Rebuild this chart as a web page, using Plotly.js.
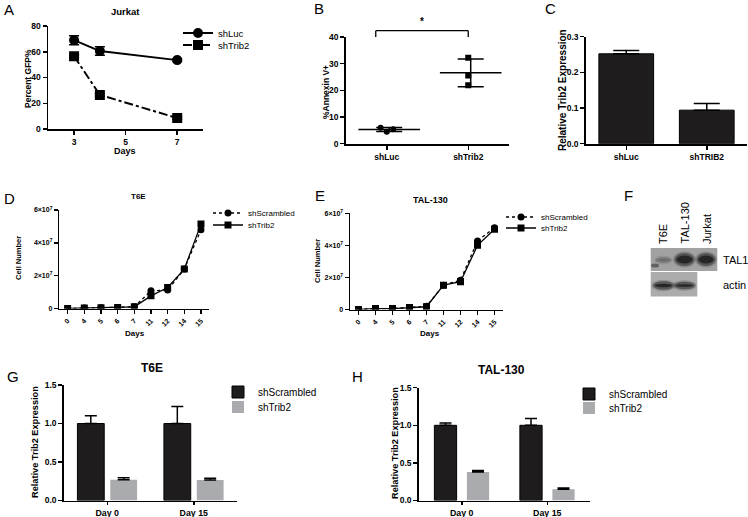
<!DOCTYPE html>
<html><head><meta charset="utf-8">
<script src="https://cdn.plot.ly/plotly-3.0.1.min.js"></script>
<style>html,body{margin:0;padding:0;background:#fff}#chart{width:748px;height:517px}</style>
</head><body><div id="chart"></div>
<script>
// ---------------- DATA ----------------
// Panel A: Jurkat, Percent GFP%
const daysA = [3, 4, 7];
const shLucA = [69, 60.5, 53.5];
const shLucAErr = [3.5, 3.3, 1.0];
const shTrib2A = [56.5, 26.5, 8.5];
const shTrib2AErr = [1.0, 1.0, 1.0];
const ticksA = [3, 5, 7];

// Panel B: %Annexin V+ (individual replicates)
const groupsB = ['shLuc', 'shTrib2'];
const annexinShLuc = [6.0, 4.5, 5.4];
const annexinShTrib2 = [32.2, 25.6, 21.9];

// Panel C: Relative Trib2 expression (Jurkat)
const groupsC = ['shLuc', 'shTRIB2'];
const trib2C = [0.252, 0.094];
const trib2CErr = [0.009, 0.019];

// Panels D / E: cell number over days
const daysDE = ['0', '4', '5', '6', '7', '11', '12', '14', '15'];
const t6eScrambled = [0, 0.03e7, 0.04e7, 0.06e7, 0.1e7, 1.08e7, 1.12e7, 2.4e7, 4.8e7];
const t6eTrib2 = [0, 0.03e7, 0.04e7, 0.06e7, 0.1e7, 0.77e7, 1.28e7, 2.4e7, 5.14e7];
const tal130Scrambled = [0, 0.06e7, 0.06e7, 0.12e7, 0.2e7, 1.52e7, 1.83e7, 4.28e7, 5.1e7];
const tal130Trib2 = [0, 0.06e7, 0.06e7, 0.12e7, 0.17e7, 1.52e7, 1.73e7, 4.0e7, 5.0e7];
const cellTickVals = [0, 2e7, 4e7, 6e7];
const cellTickText = ['0', '2×10<sup>7</sup>', '4×10<sup>7</sup>', '6×10<sup>7</sup>'];

// Panels G / H: relative Trib2 expression
const daysGH = ['Day 0', 'Day 15'];
const t6eExprScr = [1.0, 1.0];
const t6eExprScrErr = [0.1, 0.22];
const t6eExprTrib2 = [0.27, 0.265];
const t6eExprTrib2Err = [0.025, 0.025];
const tal130ExprScr = [1.0, 1.0];
const tal130ExprScrErr = [0.03, 0.09];
const tal130ExprTrib2 = [0.38, 0.15];
const tal130ExprTrib2Err = [0.02, 0.015];

// Panel F: western blot labels
const blotLanes = ['T6E', 'TAL-130', 'Jurkat'];
const blotRows = ['TAL1', 'actin'];

// ---------------- STYLE / LAYOUT HELPERS ----------------
const W = 748, H = 517;
const FONT = 'Liberation Sans, Arial, sans-serif';
const px = v => v / W;
const py = v => 1 - v / H;
const xd = (a, b) => [px(a), px(b)];
const yd = (top, bot) => [py(bot), py(top)];

function ax(o, fs, lw) {
  return Object.assign({
    showline: true, linecolor: '#000', linewidth: lw || 1.8,
    ticks: 'outside', ticklen: 4, tickwidth: 1.5, tickcolor: '#000',
    showgrid: false, zeroline: false, fixedrange: true, automargin: false,
    tickfont: {family: FONT, size: fs || 8.5, color: '#000', weight: 'bold'}
  }, o);
}
function leg(xpx, ypx, size) {
  return {x: px(xpx), y: py(ypx), xref: 'paper', yref: 'paper', xanchor: 'left', yanchor: 'middle',
    bgcolor: 'rgba(0,0,0,0)', borderwidth: 0, font: {family: FONT, size: size, color: '#000'},
    itemclick: false, itemdoubleclick: false, tracegroupgap: 0};
}
function txt(t, xpx, ypx, size, opts) {
  return Object.assign({text: t, x: px(xpx), y: py(ypx), xref: 'paper', yref: 'paper', showarrow: false,
    xanchor: 'center', yanchor: 'middle', font: {family: FONT, size: size, color: '#000'}}, opts || {});
}
const bold = (s) => ({family: FONT, size: s, color: '#000', weight: 'bold'});

// axis geometry (pixels)
const A_X = [48.3, 203], A_Y = [26, 129];
const B_X = [346, 509], B_Y = [37, 143.7];
const C_X = [586, 747], C_Y = [36.7, 143.7];
const D_X = [59.3, 209.3], D_Y = [210, 308.5];
const E_X = [350, 503], E_Y = [213.3, 309.5];
const G_X = [64, 237], G_Y = [385, 500.5];
const H_X = [419, 590], H_Y = [387.7, 500.5];

const BLACK = '#1f1c1d', GREY = '#a9abae';

// ---------------- TRACES ----------------
const traces = [];
// A
traces.push({x: daysA, y: shLucA, xaxis: 'x', yaxis: 'y', name: 'shLuc', legend: 'legend',
  mode: 'lines+markers', line: {color: '#000', width: 2}, marker: {symbol: 'circle', size: 10, color: '#000'},
  error_y: {type: 'data', array: shLucAErr, color: '#000', thickness: 1.5, width: 5}});
traces.push({x: daysA, y: shTrib2A, xaxis: 'x', yaxis: 'y', name: 'shTrib2', legend: 'legend2',
  mode: 'lines+markers', line: {color: '#000', width: 2, dash: 'dashdot'}, marker: {symbol: 'square', size: 10, color: '#000'},
  error_y: {type: 'data', array: shTrib2AErr, color: '#000', thickness: 1.5, width: 5}});

// B: replicate points + mean ± SD
const jitterB = [-0.075, 0, 0.08];
const seriesB = [annexinShLuc, annexinShTrib2];
const symB = ['circle', 'square'];
const jitterOn = [true, false];
seriesB.forEach((vals, gi) => {
  traces.push({x: vals.map((v, i) => gi + (jitterOn[gi] ? jitterB[i] : 0)), y: vals, xaxis: 'x2', yaxis: 'y2',
    mode: 'markers', showlegend: false, marker: {symbol: symB[gi], size: 6, color: '#000'}});
  const mean = vals.reduce((a, b) => a + b, 0) / vals.length;
  const sd = Math.sqrt(vals.reduce((a, b) => a + (b - mean) * (b - mean), 0) / (vals.length - 1));
  traces.push({x: [gi + 0.03], y: [mean], xaxis: 'x2', yaxis: 'y2', mode: 'markers', showlegend: false,
    marker: {symbol: 'line-ew', size: 44, color: '#000', line: {width: 1.5, color: '#000'}},
    error_y: {type: 'data', array: [sd], color: '#000', thickness: 1.5, width: 13}});
});

// C
traces.push({type: 'bar', x: groupsC, y: trib2C, xaxis: 'x3', yaxis: 'y3', showlegend: false, width: 0.68,
  marker: {color: BLACK, line: {color: '#000', width: 1}},
  error_y: {type: 'data', symmetric: false, array: trib2CErr, arrayminus: trib2CErr.map(() => 0), color: '#000', thickness: 1.5, width: 13}});

// D, E
function growth(xa, ya, scr, trib, l1, l2) {
  traces.push({x: daysDE, y: scr, xaxis: xa, yaxis: ya, name: 'shScrambled', legend: l1, mode: 'lines+markers',
    line: {color: '#000', width: 1.3, dash: 'dot'}, marker: {symbol: 'circle', size: 7, color: '#000'}});
  traces.push({x: daysDE, y: trib, xaxis: xa, yaxis: ya, name: 'shTrib2', legend: l2, mode: 'lines+markers',
    line: {color: '#000', width: 1.3}, marker: {symbol: 'square', size: 7, color: '#000'}});
}
growth('x4', 'y4', t6eScrambled, t6eTrib2, 'legend3', 'legend4');
growth('x5', 'y5', tal130Scrambled, tal130Trib2, 'legend5', 'legend6');

// G, H
function exprBars(xa, ya, scr, scrErr, trib, tribErr, l1, l2, offs, w) {
  traces.push({type: 'bar', x: daysGH, y: scr, xaxis: xa, yaxis: ya, name: 'shScrambled', legend: l1,
    offset: offs[0], width: w, marker: {color: BLACK, line: {color: '#000', width: 1}},
    error_y: {type: 'data', symmetric: false, array: scrErr, arrayminus: scrErr.map(() => 0), color: '#000', thickness: 1.5, width: 6}});
  traces.push({type: 'bar', x: daysGH, y: trib, xaxis: xa, yaxis: ya, name: 'shTrib2', legend: l2,
    offset: offs[1], width: w, marker: {color: GREY, line: {color: GREY, width: 0}},
    error_y: {type: 'data', symmetric: false, array: tribErr, arrayminus: tribErr.map(() => 0), color: '#000', thickness: 1.5, width: 6}});
}
exprBars('x6', 'y6', t6eExprScr, t6eExprScrErr, t6eExprTrib2, t6eExprTrib2Err, 'legend7', 'legend8', [-0.345, 0.035], 0.31);
exprBars('x7', 'y7', tal130ExprScr, tal130ExprScrErr, tal130ExprTrib2, tal130ExprTrib2Err, 'legend9', 'legend10', [-0.32, 0.06], 0.26);

// ---------------- SHAPES (significance bracket, western blot) ----------------
const shapes = [];
const line = (x0, y0, x1, y1) => ({type: 'line', xref: 'paper', yref: 'paper', x0: px(x0), y0: py(y0), x1: px(x1), y1: py(y1), line: {color: '#000', width: 1.3}});
// B bracket: derived from category centers
const bCat = i => B_X[0] + (i + 0.5) / 2 * (B_X[1] - B_X[0]);
const brL = bCat(0) - 11, brR = bCat(1), brTop = 30.7, brBot = B_Y[0];
shapes.push(line(brL, brBot, brL, brTop), line(brL, brTop, brR, brTop), line(brR, brTop, brR, brBot));

// blot panels
const rect = (x0, y0, x1, y1, fill, op) => ({type: 'rect', xref: 'paper', yref: 'paper', x0: px(x0), y0: py(y0), x1: px(x1), y1: py(y1),
  fillcolor: fill, opacity: op == null ? 1 : op, line: {width: 0}, layer: 'above'});
const ell = (cx, cy, rx, ry, fill, op) => ({type: 'circle', xref: 'paper', yref: 'paper', x0: px(cx - rx), y0: py(cy + ry), x1: px(cx + rx), y1: py(cy - ry),
  fillcolor: fill, opacity: op, line: {width: 0}, layer: 'above'});
shapes.push(rect(650.7, 248, 717.3, 271, '#a2a2a2'));
shapes.push(rect(650.7, 272, 697.3, 296.5, '#acacac'));
function band(cx, cy, rx, ry, dark) {
  shapes.push(ell(cx, cy, rx + 1.5, ry + 2.5, '#555', 0.35 * dark));
  shapes.push(ell(cx, cy, rx, ry + 1, '#333', 0.6 * dark));
  shapes.push(ell(cx, cy, rx - 2, ry - 1.5, '#1e1e1e', 0.85 * dark));
}
band(684.5, 259.5, 10, 5.5, 1);
band(706, 259.5, 9.5, 5.5, 1);
band(663.5, 260, 8, 2, 0.45);
shapes.push(ell(655, 265.5, 4, 2, '#333', 0.6));
band(663.5, 285.5, 10.5, 3.2, 1);
band(684.5, 285.5, 10.5, 2.8, 1);

// ---------------- ANNOTATIONS ----------------
const ann = [];
// panel letters
[['A', 2, 9], ['B', 311.5, 8], ['C', 543, 8], ['D', 2, 198], ['E', 313, 195], ['F', 621.5, 195], ['G', 5, 376], ['H', 350, 376]]
  .forEach(([t, x, y]) => ann.push(txt(t, x, y, 15, {xanchor: 'left'})));
// plot titles
ann.push(txt('Jurkat', 125, 12, 9.5, {font: bold(9.5)}));
ann.push(txt('T6E', 138, 196, 8, {font: bold(8)}));
ann.push(txt('TAL-130', 430, 200, 9, {font: bold(9)}));
ann.push(txt('T6E', 152, 368, 12, {font: bold(12)}));
ann.push(txt('TAL-130', 501, 370, 12, {font: bold(12)}));
// axis titles
ann.push(txt('Percent GFP%', 28, 78, 8.5, {font: bold(8.5), textangle: -90}));
ann.push(txt('%Annexin V+', 326, 92, 8.5, {font: bold(8.5), textangle: -90}));
ann.push(txt('Relative Trib2 Expression', 562, 90, 10, {font: bold(10), textangle: -90}));
ann.push(txt('Cell Number', 18, 258, 7.5, {font: bold(7.5), textangle: -90}));
ann.push(txt('Cell Number', 317, 261, 7.5, {font: bold(7.5), textangle: -90}));
ann.push(txt('Relative Trib2 Expression', 35, 442, 9.2, {font: bold(9.2), textangle: -90}));
ann.push(txt('Relative Trib2 Expression', 395, 443, 9.2, {font: bold(9.2), textangle: -90}));
ann.push(txt('Days', 125, 151, 9, {font: bold(9)}));
ann.push(txt('Days', 135, 333, 8, {font: bold(8)}));
ann.push(txt('Days', 430, 333, 8, {font: bold(8)}));
// significance star
ann.push(txt('*', 422, 21, 10, {font: bold(10)}));
// blot labels
const laneX = [663, 685, 707];
blotLanes.forEach((t, i) => ann.push(txt(t, laneX[i], 246, 11, {textangle: -90, yanchor: 'bottom'})));
const rowY = [260, 285];
blotRows.forEach((t, i) => ann.push(txt(t, 721, rowY[i], 11, {xanchor: 'left'})));

// ---------------- LAYOUT ----------------
const layout = {
  width: W, height: H, margin: {l: 0, r: 0, t: 0, b: 0}, paper_bgcolor: '#fff', plot_bgcolor: 'rgba(0,0,0,0)',
  font: {family: FONT, color: '#000'}, barmode: 'overlay', showlegend: true,
  xaxis: ax({domain: xd(...A_X), range: [2, 8], tickvals: ticksA, anchor: 'y'}),
  yaxis: ax({domain: yd(...A_Y), range: [0, 80], dtick: 20, anchor: 'x'}),
  xaxis2: ax({domain: xd(...B_X), range: [-0.5, 1.5], tickvals: [0, 1], ticktext: groupsB, anchor: 'y2'}),
  yaxis2: ax({domain: yd(...B_Y), range: [0, 40], dtick: 10, anchor: 'x2'}),
  xaxis3: ax({domain: xd(...C_X), type: 'category', range: [-0.5, 1.5], anchor: 'y3'}),
  yaxis3: ax({domain: yd(...C_Y), range: [0, 0.3], dtick: 0.1, tickformat: '.1f', anchor: 'x3'}),
  xaxis4: ax({domain: xd(...D_X), type: 'category', range: [-0.5, 8.5], tickangle: -45, anchor: 'y4'}, 7, 1.5),
  yaxis4: ax({domain: yd(...D_Y), range: [0, 6e7], tickvals: cellTickVals, ticktext: cellTickText, anchor: 'x4'}, 7, 1.5),
  xaxis5: ax({domain: xd(...E_X), type: 'category', range: [-0.5, 8.5], tickangle: -45, anchor: 'y5'}, 7, 1.5),
  yaxis5: ax({domain: yd(...E_Y), range: [0, 6e7], tickvals: cellTickVals, ticktext: cellTickText, anchor: 'x5'}, 7, 1.5),
  xaxis6: ax({domain: xd(...G_X), type: 'category', range: [-0.5, 1.5], anchor: 'y6', ticklen: 3}, 8.8),
  yaxis6: ax({domain: yd(...G_Y), range: [0, 1.5], dtick: 0.5, tickformat: '.1f', anchor: 'x6'}, 8.5),
  xaxis7: ax({domain: xd(...H_X), type: 'category', range: [-0.5, 1.5], anchor: 'y7', ticklen: 3}, 8.8),
  yaxis7: ax({domain: yd(...H_Y), range: [0, 1.5], dtick: 0.5, tickformat: '.1f', anchor: 'x7'}, 8.5),
  legend: leg(178, 33, 9.5), legend2: leg(178, 45, 9.5),
  legend3: leg(208, 213, 8), legend4: leg(208, 225, 8),
  legend5: leg(501, 217, 8), legend6: leg(501, 228, 8),
  legend7: leg(218, 392, 10), legend8: leg(218, 407, 10),
  legend9: leg(569, 394, 10), legend10: leg(569, 408, 10),
  shapes: shapes, annotations: ann
};

Plotly.newPlot('chart', traces, layout, {staticPlot: true, displayModeBar: false});
</script></body></html>
